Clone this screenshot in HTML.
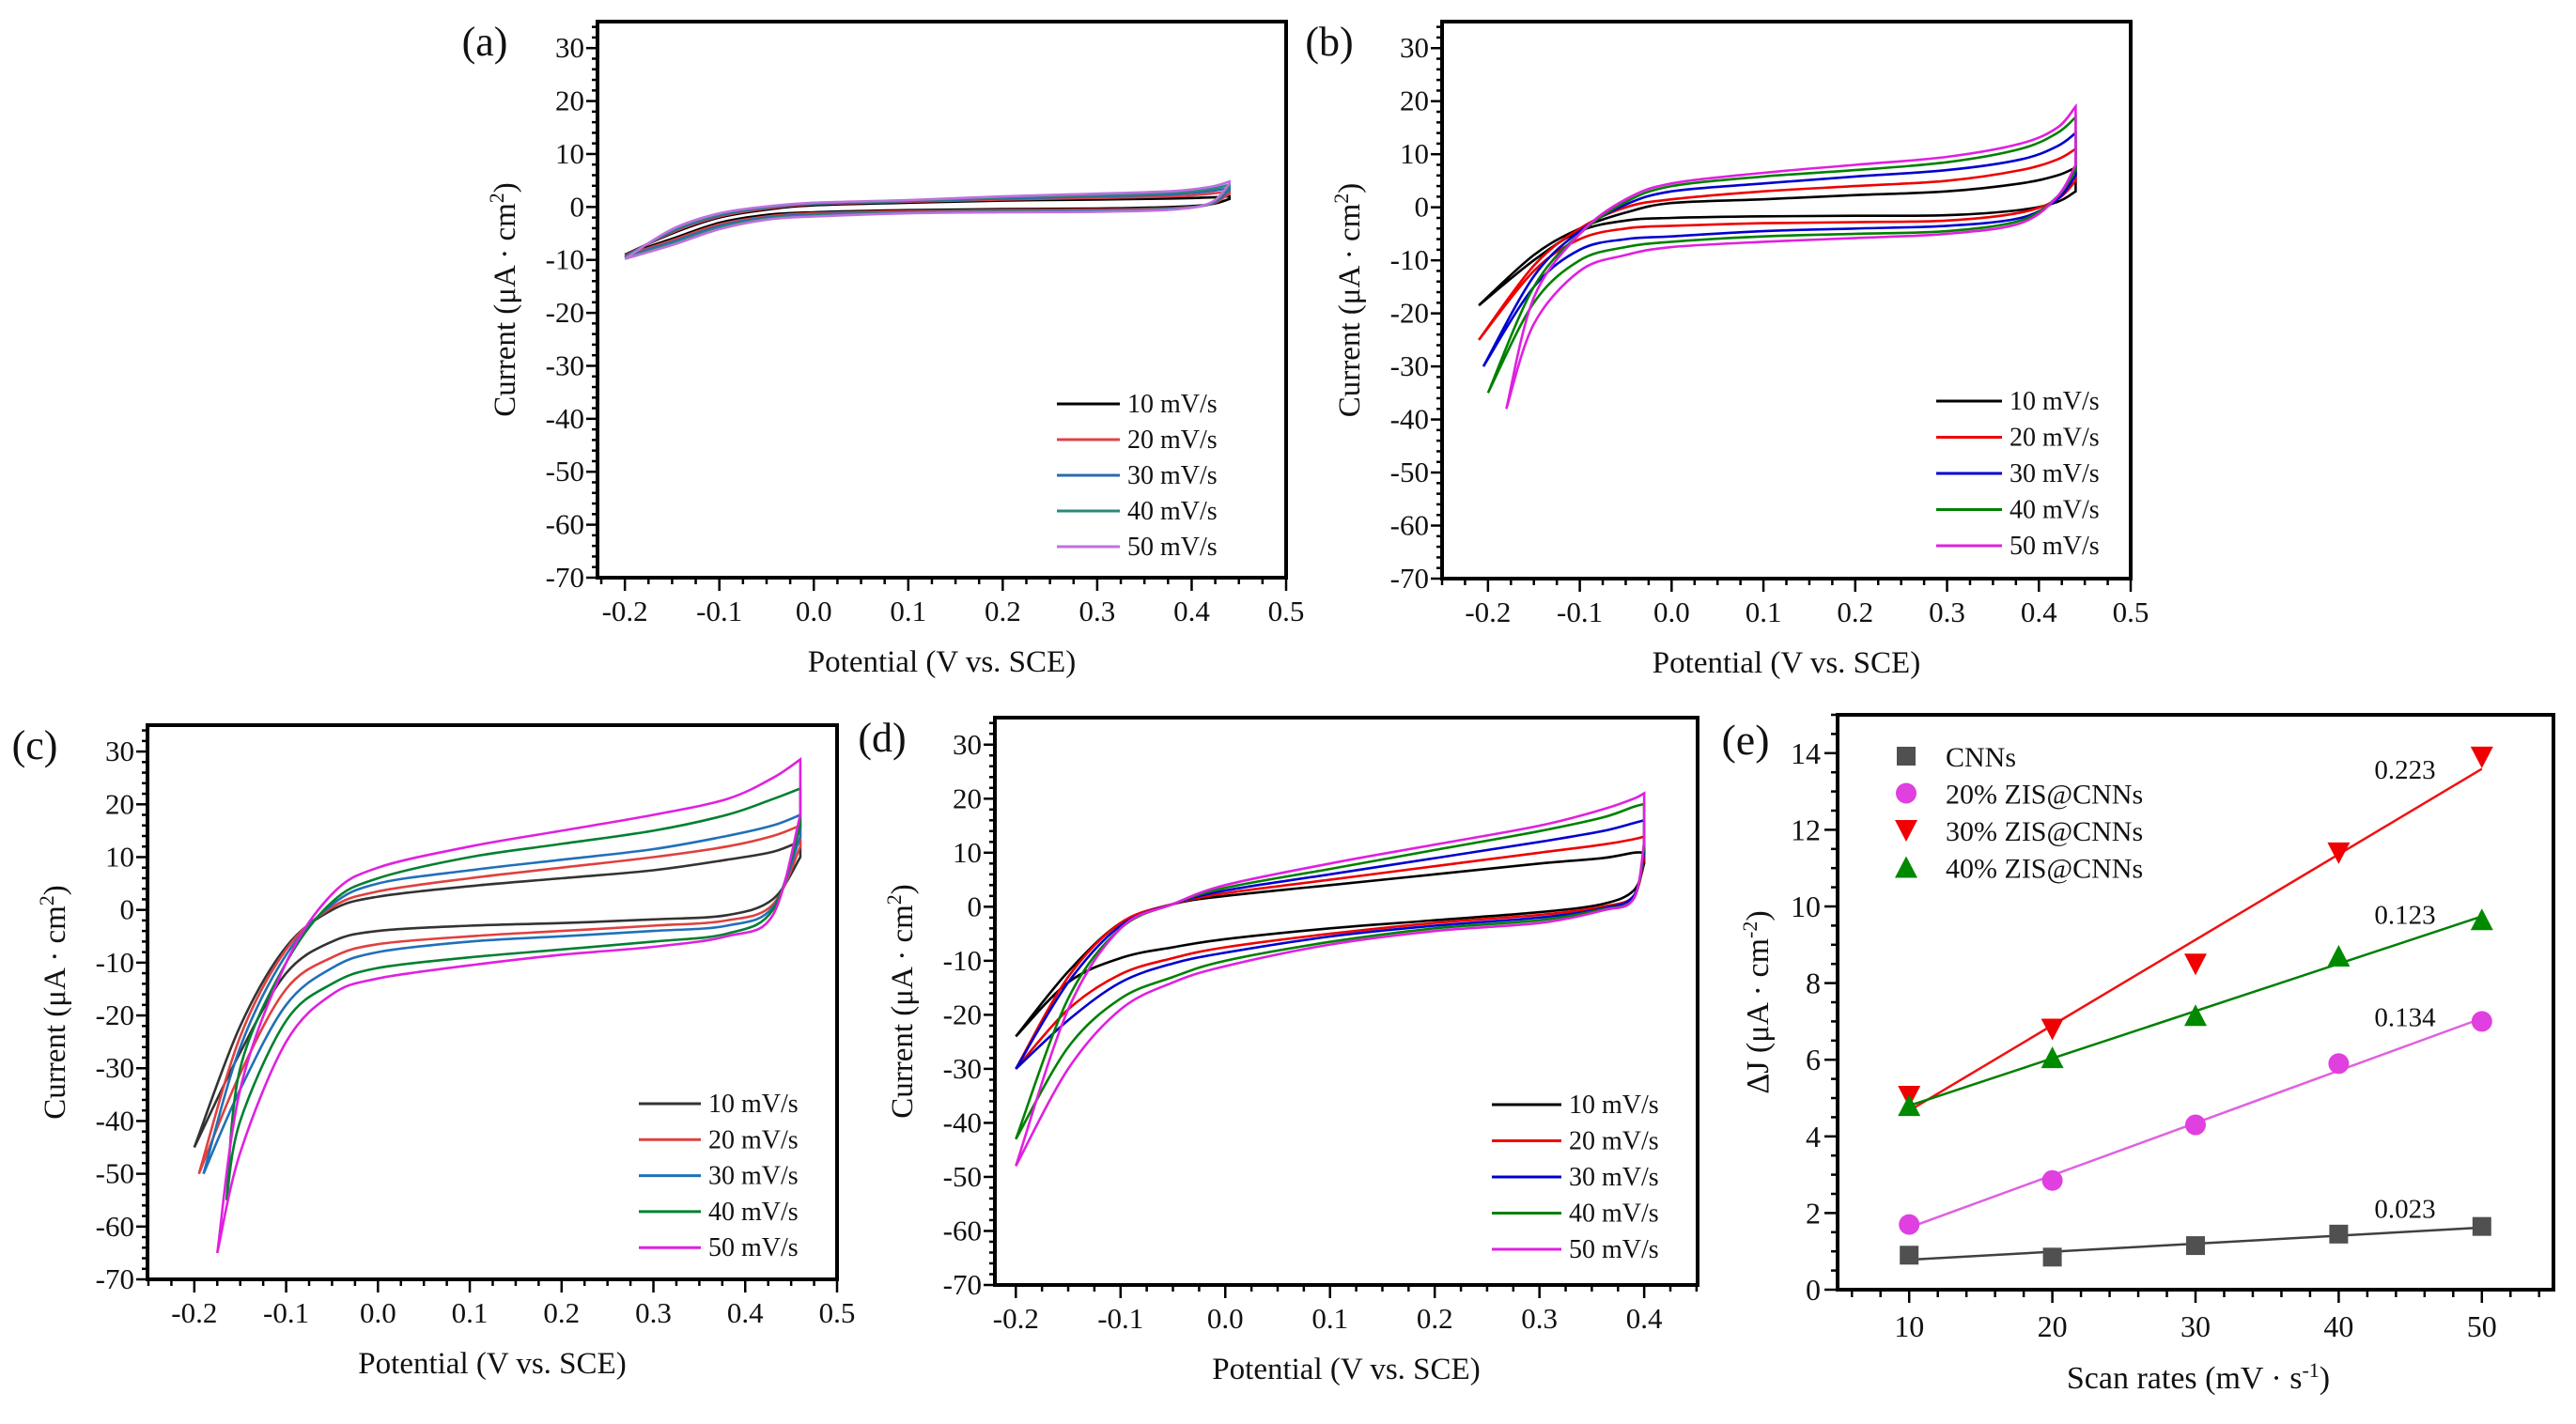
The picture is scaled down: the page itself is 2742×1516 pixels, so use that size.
<!DOCTYPE html>
<html><head><meta charset="utf-8"><style>
html,body{margin:0;padding:0;background:#fff;}
svg{display:block;font-family:"Liberation Serif",serif;}
</style></head><body>
<svg id="fig" width="2742" height="1516" viewBox="0 0 2742 1516" xmlns="http://www.w3.org/2000/svg"></svg>
<script>
// ---------- CV data ----------
const cvLabels = ["10 mV/s","20 mV/s","30 mV/s","40 mV/s","50 mV/s"];
// panel (a)
const gridA = [null,-0.15,-0.1,-0.05,0,0.1,0.2,0.3,0.38,0.42,0.44];
const vminA = [-0.2,-0.2,-0.2,-0.2,-0.2];
const upA = [
 [-9,-5,-2,-0.5,0.3,0.8,1.2,1.4,1.6,1.8,2],
 [-9.2,-4.8,-1.8,-0.3,0.5,1.0,1.4,1.7,2.0,2.5,3],
 [-9.4,-4.6,-1.6,-0.1,0.6,1.1,1.6,2.0,2.4,3.0,3.6],
 [-9.6,-4.4,-1.4,0,0.7,1.2,1.8,2.2,2.7,3.4,4.2],
 [-9.8,-4.2,-1.2,0.1,0.8,1.3,2.0,2.5,3.0,3.8,4.8]];
const dnA = [
 [-9,-6,-3,-1.5,-1,-0.6,-0.4,-0.3,0,0.5,1.5],
 [-9.2,-6.3,-3.3,-1.8,-1.2,-0.8,-0.6,-0.5,-0.2,0.5,2.5],
 [-9.4,-6.6,-3.6,-2.0,-1.4,-1.0,-0.8,-0.7,-0.3,0.6,3.2],
 [-9.6,-6.9,-3.9,-2.2,-1.6,-1.1,-0.9,-0.8,-0.4,0.7,3.8],
 [-9.8,-7.2,-4.2,-2.4,-1.8,-1.2,-1.0,-0.9,-0.5,0.8,4.4]];
// panel (b)
const gridB = [null,-0.15,-0.1,-0.05,0,0.1,0.2,0.3,0.38,0.42,0.44];
const vminB = [-0.21,-0.21,-0.205,-0.2,-0.18];
const upB = [
 [-18.5,-9,-4,-1,0.8,1.5,2.3,3,4.5,6,7.5],
 [-25,-11,-4,0,1.5,3,4,5,7,9,11],
 [-30,-13,-4.5,0.5,3,4.5,5.8,7,9,11.5,14],
 [-35,-15,-5,1,4,5.8,7,8.5,11,14,17],
 [-38,-17,-5,1.5,4.5,6.5,8,9.5,12,15,19]];
const dnB = [
 [-18.5,-10,-4.5,-2.5,-2,-1.7,-1.6,-1.5,-0.5,1,3],
 [-25,-12,-6,-4,-3.5,-3,-2.8,-2.5,-1,1.5,5],
 [-30,-15,-8,-6,-5.5,-4.5,-4,-3.5,-2,1.5,6],
 [-35,-18,-10,-7.5,-6.5,-5.5,-5,-4.5,-2.5,2,7],
 [-38,-22,-12,-9,-7.5,-6.5,-5.8,-5,-3,2,8]];
// panel (c)
const gridC = [null,-0.15,-0.1,-0.05,0,0.1,0.2,0.3,0.38,0.43,0.46];
const vminC = [-0.2,-0.195,-0.19,-0.165,-0.175];
const upC = [
 [-45,-22,-7,0,2.5,4.5,6,7.5,9.5,11,13],
 [-50,-24,-7.5,0.5,3.5,6,8,10,12,14,16],
 [-50,-26,-8.5,1,5,7.5,9.5,11.5,14,16,18],
 [-55,-30,-10,1.5,6,10,12.5,15,18,21,23],
 [-65,-34,-10,3,8,12,15,18,21,25,28.5]];
const dnC = [
 [-45,-27,-12,-6,-4,-3,-2.5,-1.8,-1,2,10],
 [-50,-31,-15,-9,-6.5,-5,-4,-3,-2,1,12],
 [-50,-34,-18,-11,-8,-6,-5,-4,-3,0.5,14],
 [-55,-40,-21,-14,-11,-9,-7.5,-6,-4.5,0,16],
 [-65,-46,-25,-16,-13,-10.5,-8.5,-7,-5,-1,18]];
// panel (d)
const gridD = [null,-0.15,-0.1,-0.05,0,0.1,0.2,0.3,0.36,0.39,0.4];
const vminD = [-0.2,-0.2,-0.2,-0.2,-0.2];
const upD = [
 [-24,-12,-3,0.5,2,4,6,8,9,10,10],
 [-30,-13,-3,0.5,2.5,5,7.5,10,11.5,12.5,13],
 [-30,-14,-3.5,0.5,3,6,9,12,14,15.5,16],
 [-43,-17,-4,0.5,3.5,7,10.5,14,16.5,18.5,19],
 [-48,-19,-4,0.5,4,8,11.5,15,18,20,21]];
const dnD = [
 [-24,-14,-9.5,-7.5,-6,-4,-2.5,-1,0.5,3,8],
 [-30,-19,-12.5,-9.5,-7.5,-5,-3,-1.5,0,2,9],
 [-30,-21,-14,-10.5,-8.5,-5.5,-3.5,-2,-0.3,2,10],
 [-43,-26,-17,-13,-10,-6.5,-4,-2.5,-0.5,1.5,11],
 [-48,-30,-19,-14,-11,-7,-4.5,-3,-0.7,1.5,12]];

// ---------- panel (e) data ----------
const rates = [10,20,30,40,50];
const eNames = ["CNNs","20% ZIS@CNNs","30% ZIS@CNNs","40% ZIS@CNNs"];
const eCNN = [0.9,0.85,1.15,1.45,1.65];
const e20 = [1.7,2.85,4.3,5.9,7.0];
const e30 = [5.05,6.8,8.5,11.4,13.9];
const e40 = [4.8,6.05,7.15,8.7,9.65];
const slopeLabels = ["0.023","0.134","0.223","0.123"];
const yTicksE = [0,2,4,6,8,10,12,14];
const xTicksE = [10,20,30,40,50];
const yTicksCV = [30,20,10,0,-10,-20,-30,-40,-50,-60,-70];
const xTicksCV = [-0.2,-0.1,0.0,0.1,0.2,0.3,0.4,0.5];

const NS="http://www.w3.org/2000/svg";
const svg=document.getElementById('fig');
function mk(tag,attrs,parent){const e=document.createElementNS(NS,tag);for(const k in attrs)e.setAttribute(k,attrs[k]);(parent||svg).appendChild(e);return e;}
function txt(s,x,y,size,anchor,parent){const t=mk('text',{x:x,y:y,'font-size':size,'text-anchor':anchor||'middle',fill:'#111'},parent);t.textContent=s;return t;}
function smooth(pts){let d='M'+pts[0][0].toFixed(1)+','+pts[0][1].toFixed(1);
 for(let i=0;i<pts.length-1;i++){const p0=pts[Math.max(0,i-1)],p1=pts[i],p2=pts[i+1],p3=pts[Math.min(pts.length-1,i+2)];
  const c1=[p1[0]+(p2[0]-p0[0])/6,p1[1]+(p2[1]-p0[1])/6],c2=[p2[0]-(p3[0]-p1[0])/6,p2[1]-(p3[1]-p1[1])/6];
  d+='C'+c1[0].toFixed(1)+','+c1[1].toFixed(1)+' '+c2[0].toFixed(1)+','+c2[1].toFixed(1)+' '+p2[0].toFixed(1)+','+p2[1].toFixed(1);}
 return d;}

function cvPanel(o){
 const g=mk('g',{});
 
 
 const sx=v=>o.L+(v-o.x0)/(o.x1-o.x0)*(o.R-o.L);
 const sy=v=>o.T+(o.y1-v)/(o.y1-o.y0)*(o.B-o.T);
 for(let c=0;c<5;c++){
  const up=o.up[c],dn=o.dn[c];
  const ptsU=o.grid.map((v,i)=>[sx(i===0?o.vmin[c]:v),sy(up[i])]);
  const ptsD=o.grid.map((v,i)=>[sx(i===0?o.vmin[c]:v),sy(dn[i])]).reverse();
  const p=mk('path',{d:smooth(ptsU)+smooth(ptsD).replace('M','L')+'Z',fill:'none',stroke:o.colors[c],'stroke-width':2.6},g);
  
  
 }
 const fr=mk('rect',{x:o.L,y:o.T,width:o.R-o.L,height:o.B-o.T,fill:'none',stroke:'#000','stroke-width':4},g);
 
 
 for(let v=-70;v<=35;v+=2){const y=sy(v);const maj=(v%10===0);mk('line',{x1:o.L,x2:o.L-(maj?12:6),y1:y,y2:y,stroke:'#000','stroke-width':2.5},g);}
 yTicksCV.forEach(v=>{const t=txt(String(v),o.L-14,sy(v)+10,31,'end',g);});
 for(let k=Math.ceil(o.x0/0.025);k*0.025<=o.x1+1e-9;k++){const v=k*0.025;const x=sx(v);const maj=(k%4===0);mk('line',{x1:x,x2:x,y1:o.B,y2:o.B+(maj?14:7),stroke:'#000','stroke-width':2.5},g);}
 xTicksCV.forEach(v=>{if(v>o.x1+1e-9)return;const t=txt(v.toFixed(1),sx(v),o.B+46,31,'middle',g);});
 const xl=txt('Potential (V vs. SCE)',(o.L+o.R)/2,o.B+100,33,'middle',g);
 
 const yx=o.L-88,yy=(o.T+o.B)/2;
 const yl=mk('text',{x:yx,y:yy,'font-size':33,'text-anchor':'middle',fill:'#111',transform:'rotate(-90 '+yx+' '+yy+')'},g);
 yl.innerHTML='Current (μA · cm<tspan dy="-12" font-size="22">2</tspan><tspan dy="12">)</tspan>';
 
 const pl=txt('('+o.id+')',o.L-120,o.T+36,44,'middle',g);
 
 for(let c=0;c<5;c++){const y=o.legY+c*o.legDy;
  const lg=mk('g',{},g);
  mk('line',{x1:o.legX,x2:o.legX+o.legW,y1:y,y2:y,stroke:o.colors[c],'stroke-width':3},lg);
  txt(cvLabels[c],o.legX+o.legW+8,y+9,28,'start',lg);}
}
const colA=['#000','#e0404a','#2a6ab0','#2a8a78','#c070e0'];
const colB=['#000','#ee0000','#0000d0','#008000','#e020e0'];
const colC=['#333','#e04040','#2070b8','#008030','#e020e0'];
cvPanel({id:'a',L:636,R:1369,T:23,B:615,x0:-0.229,x1:0.5,y0:-70,y1:35,grid:gridA,vmin:vminA,up:upA,dn:dnA,colors:colA,legX:1125,legW:67,legY:430,legDy:38});
cvPanel({id:'b',L:1535,R:2268,T:23,B:616,x0:-0.25,x1:0.5,y0:-70,y1:35,grid:gridB,vmin:vminB,up:upB,dn:dnB,colors:colB,legX:2061,legW:70,legY:427,legDy:38.5});
cvPanel({id:'c',L:157,R:891,T:772,B:1362,x0:-0.251,x1:0.5,y0:-70,y1:35,grid:gridC,vmin:vminC,up:upC,dn:dnC,colors:colC,legX:680,legW:66,legY:1175,legDy:38.3});
cvPanel({id:'d',L:1059,R:1807,T:764,B:1368,x0:-0.22,x1:0.451,y0:-70,y1:35,grid:gridD,vmin:vminD,up:upD,dn:dnD,colors:colB,legX:1588,legW:74,legY:1176,legDy:38.5});

// ---------- panel (e) ----------
(function(){
 const L=1956,R=2718,T=761,B=1373,x0=5,x1=55,y0=0,y1=15;
 const sx=v=>L+(v-x0)/(x1-x0)*(R-L), sy=v=>T+(y1-v)/(y1-y0)*(B-T);
 const g=mk('g',{});
 const series=[eCNN,e20,e30,e40];
 const cols=['#505050','#e040e0','#f00000','#008a00'];
 const lcols=['#404040','#e060e0','#f01010','#008000'];
 const shapes=['sq','ci','dn','up'];
 const labelDy=[-9,5,23,4];
 function marker(s,x,y,col,parent){const r=11;
  if(s==='sq')return mk('rect',{x:x-r+1,y:y-r+1,width:2*r-2,height:2*r-2,fill:col},parent);
  if(s==='ci')return mk('circle',{cx:x,cy:y,r:r,fill:col},parent);
  if(s==='dn')return mk('polygon',{points:`${x-r-1},${y-r} ${x+r+1},${y-r} ${x},${y+r+1}`,fill:col},parent);
  return mk('polygon',{points:`${x-r-1},${y+r} ${x+r+1},${y+r} ${x},${y-r-1}`,fill:col},parent);}
 series.forEach((ys,si)=>{
  const n=ys.length,mx=rates.reduce((a,b)=>a+b)/n,my=ys.reduce((a,b)=>a+b)/n;
  let sxy=0,sxx=0;rates.forEach((x,i)=>{sxy+=(x-mx)*(ys[i]-my);sxx+=(x-mx)*(x-mx);});
  const m=sxy/sxx,b=my-m*mx;
  const ln=mk('line',{x1:sx(rates[0]),y1:sy(m*rates[0]+b),x2:sx(rates[n-1]),y2:sy(m*rates[n-1]+b),stroke:lcols[si],'stroke-width':2.5},g);
  
  ys.forEach((v,i)=>{const mm=marker(shapes[si],sx(rates[i]),sy(v),cols[si],g);
   });
  const t=txt(slopeLabels[si],2560,sy(ys[n-1])+labelDy[si],29,'middle',g);
  
 });
 const fr=mk('rect',{x:L,y:T,width:R-L,height:B-T,fill:'none',stroke:'#000','stroke-width':4},g);
 
 for(let v=0;v<=15;v+=0.5){const y=sy(v);const maj=(v%2===0);mk('line',{x1:L,x2:L-(maj?14:7),y1:y,y2:y,stroke:'#000','stroke-width':2.5},g);}
 yTicksE.forEach(v=>{const t=txt(String(v),L-18,sy(v)+11,32,'end',g);});
 for(let v=6;v<=54;v+=2){const x=sx(v);const maj=(v%10===0);mk('line',{x1:x,x2:x,y1:B,y2:B+(maj?14:8),stroke:'#000','stroke-width':2.5},g);}
 xTicksE.forEach(v=>{const t=txt(String(v),sx(v),B+50,32,'middle',g);});
 const xl=mk('text',{x:2340,y:1478,'font-size':34,'text-anchor':'middle',fill:'#111'},g);
 xl.innerHTML='Scan rates (mV · s<tspan dy="-12" font-size="22">-1</tspan><tspan dy="12">)</tspan>';
 
 const yx=1882,yy=1067;
 const yl=mk('text',{x:yx,y:yy,'font-size':34,'text-anchor':'middle',fill:'#111',transform:'rotate(-90 '+yx+' '+yy+')'},g);
 yl.innerHTML='ΔJ (μA · cm<tspan dy="-12" font-size="22">-2</tspan><tspan dy="12">)</tspan>';
 
 const pl=txt('(e)',1858,803,46,'middle',g);
 eNames.forEach((n,i)=>{const y=805+i*39.5;
  const lg=mk('g',{},g);
  marker(shapes[i],2029,y,cols[i],lg);
  txt(n,2071,y+11,30,'start',lg);});
})();
</script>
</body></html>
